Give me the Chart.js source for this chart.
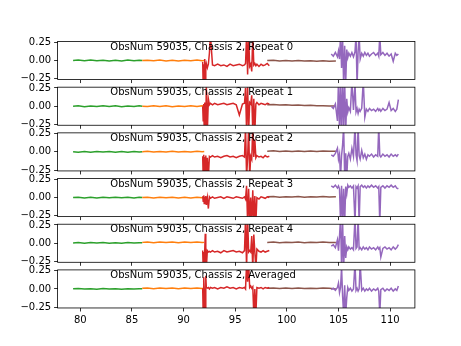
<!DOCTYPE html>
<html>
<head>
<meta charset="utf-8">
<script src="https://cdn.jsdelivr.net/npm/chart.js@4"></script>
<style>
  body { margin: 0; background: #fff; }
  #wrap { position: relative; width: 461px; height: 346px; }
  #wrap canvas { position: absolute; left: 0; top: 0; }
</style>
</head>
<body>
<div id="wrap"></div>
<script>
// panel titles and ticks
const panelTitles = [
  'ObsNum 59035, Chassis 2, Repeat 0',
  'ObsNum 59035, Chassis 2, Repeat 1',
  'ObsNum 59035, Chassis 2, Repeat 2',
  'ObsNum 59035, Chassis 2, Repeat 3',
  'ObsNum 59035, Chassis 2, Repeat 4',
  'ObsNum 59035, Chassis 2, Averaged'
];
const xTicks = [80, 85, 90, 95, 100, 105, 110];
const yTicks = [-0.25, 0, 0.25];

// green segment
const greenX = [79.3, 79.8, 80.4, 81.0, 81.6, 82.2, 82.8, 83.4, 84.0, 84.6, 85.2, 85.7, 86.0];
const greenY = [
  [0.0, 0.006, -0.004, 0.007, -0.003, 0.005, -0.006, 0.004, -0.005, 0.006, -0.003, 0.004, 0.0],
  [0.0, 0.005, -0.006, 0.004, -0.004, 0.007, -0.003, 0.005, -0.006, 0.003, -0.004, 0.005, 0.001],
  [0.002, -0.005, 0.006, -0.004, 0.005, -0.003, 0.006, -0.005, 0.004, -0.006, 0.005, -0.003, 0.002],
  [0.0, 0.006, -0.005, 0.004, -0.006, 0.005, -0.003, 0.006, -0.004, 0.005, -0.005, 0.004, 0.0],
  [0.004, 0.01, 0.0, 0.009, 0.002, 0.01, 0.001, 0.008, 0.0, 0.009, 0.002, 0.008, 0.006],
  [0.002, 0.005, -0.002, 0.004, -0.003, 0.005, -0.002, 0.004, -0.003, 0.003, -0.002, 0.004, 0.002]
];

// orange segment
const orangeX = [86.0, 86.5, 87.1, 87.7, 88.3, 88.9, 89.5, 90.1, 90.7, 91.3, 91.8, 92.0];
const orangeY = [
  [0.0, 0.005, -0.004, 0.006, -0.005, 0.004, -0.006, 0.005, -0.003, 0.006, -0.004, 0.0],
  [0.001, -0.005, 0.006, -0.004, 0.005, -0.006, 0.004, -0.005, 0.006, -0.003, 0.005, 0.0],
  [0.003, 0.008, -0.002, 0.007, -0.001, 0.008, -0.002, 0.007, 0.0, 0.008, 0.001, 0.004],
  [0.0, 0.006, -0.005, 0.005, -0.004, 0.006, -0.005, 0.004, -0.006, 0.005, -0.003, 0.0],
  [0.012, 0.018, 0.008, 0.017, 0.009, 0.018, 0.008, 0.016, 0.01, 0.018, 0.009, 0.012],
  [0.008, 0.013, 0.004, 0.012, 0.005, 0.013, 0.004, 0.012, 0.006, 0.013, 0.005, 0.008]
];

// red segment
const redX = [91.85, 91.9, 91.95, 92.0, 92.05, 92.1, 92.15, 92.2, 92.3, 92.4, 92.5, 92.6, 92.8, 93.0,
  93.3, 93.6, 93.9, 94.2, 94.5, 94.8, 95.1, 95.4, 95.7, 95.9, 96.0, 96.1, 96.2, 96.3,
  96.4, 96.5, 96.6, 96.7, 96.8, 96.9, 97.0, 97.1, 97.3, 97.5, 97.7, 97.9, 98.1, 98.3];
const redY = [
  [-0.02, -0.35, -0.05, -0.3, 0.02, -0.35, -0.08, -0.04, -0.1, -0.05, 0.1, 0.35, -0.06, -0.07,
   -0.05, -0.07, -0.06, -0.08, -0.05, -0.07, -0.06, -0.05, -0.07, -0.06, -0.04, 0.35, -0.19, 0.35,
   -0.08, -0.05, -0.15, 0.35, -0.06, -0.04, -0.07, -0.05, -0.08, -0.05, -0.07, -0.06, -0.04, -0.07],
  [0.0, -0.2, 0.03, -0.35, 0.05, 0.01, -0.35, 0.3, -0.35, 0.1, 0.02, 0.04, 0.02, 0.04,
   0.02, 0.03, 0.04, 0.02, 0.03, 0.04, 0.02, -0.12, 0.03, 0.04, 0.25, -0.35, 0.3, -0.35,
   0.05, 0.03, 0.15, -0.35, 0.1, -0.35, 0.03, 0.05, 0.02, 0.04, 0.03, 0.02, 0.04, 0.03],
  [-0.06, -0.35, -0.04, -0.35, -0.07, -0.35, -0.05, -0.35, -0.08, -0.35, -0.06, -0.07, -0.05, -0.07,
   -0.06, -0.08, -0.06, -0.05, -0.07, -0.06, -0.08, -0.06, -0.05, -0.07, 0.35, -0.35, -0.08, 0.35,
   -0.35, -0.06, -0.1, 0.35, -0.07, 0.17, -0.08, -0.05, -0.07, -0.06, -0.08, -0.05, -0.07, -0.06],
  [0.02, -0.05, 0.03, -0.08, 0.01, -0.04, 0.02, -0.1, 0.0, -0.15, 0.01, -0.01, 0.01, -0.01,
   0.0, 0.01, -0.01, 0.01, 0.0, -0.01, 0.01, 0.0, -0.01, 0.01, -0.02, 0.16, -0.35, 0.12,
   -0.35, 0.0, -0.35, 0.1, -0.35, 0.02, -0.35, 0.0, -0.02, 0.01, 0.0, -0.01, 0.01, 0.0],
  [-0.1, -0.35, -0.12, -0.35, -0.09, 0.13, -0.12, -0.35, -0.1, -0.12, -0.11, -0.12, -0.1, -0.12,
   -0.11, -0.13, -0.1, -0.12, -0.11, -0.1, -0.12, -0.11, -0.13, -0.1, 0.35, -0.35, 0.35, -0.12,
   -0.1, -0.12, 0.1, -0.35, 0.12, -0.12, -0.35, -0.08, -0.11, -0.12, -0.1, -0.12, -0.11, -0.1],
  [0.01, -0.35, 0.16, 0.0, -0.35, -0.3, 0.18, 0.02, 0.01, 0.02, 0.0, 0.02, 0.01, 0.02,
   0.0, 0.02, 0.01, 0.03, 0.01, 0.02, 0.0, 0.02, 0.01, 0.02, 0.0, 0.35, 0.1, 0.35,
   0.02, 0.04, 0.01, 0.03, -0.35, 0.0, -0.35, 0.02, 0.01, 0.02, 0.0, 0.02, 0.01, 0.02]
];

// brown segment
const brownX = [98.1, 98.7, 99.3, 99.9, 100.5, 101.1, 101.7, 102.3, 102.9, 103.5, 104.1, 104.75];
const brownY = [
  [0.0, 0.004, -0.006, 0.002, -0.007, 0.0, -0.008, -0.002, -0.009, -0.004, -0.01, -0.008],
  [0.02, 0.024, 0.015, 0.02, 0.012, 0.016, 0.009, 0.012, 0.006, 0.008, 0.003, 0.002],
  [0.01, 0.014, 0.006, 0.013, 0.007, 0.012, 0.006, 0.013, 0.007, 0.012, 0.008, 0.01],
  [0.01, 0.013, 0.006, 0.012, 0.007, 0.013, 0.006, 0.012, 0.007, 0.013, 0.008, 0.01],
  [0.012, 0.016, 0.008, 0.015, 0.009, 0.016, 0.008, 0.015, 0.009, 0.016, 0.01, 0.012],
  [0.01, 0.013, 0.006, 0.012, 0.007, 0.012, 0.006, 0.011, 0.007, 0.012, 0.008, 0.0]
];

// purple segment
const purpleX = [104.3, 104.5, 104.7, 104.9, 105.0, 105.1, 105.2, 105.3, 105.4, 105.5, 105.6, 105.7,
  105.8, 105.9, 106.0, 106.15, 106.3, 106.45, 106.6, 106.7, 106.8, 106.9, 107.0, 107.1,
  107.25, 107.4, 107.55, 107.7, 107.85, 108.0, 108.2, 108.4, 108.6, 108.8, 108.9, 109.0,
  109.1, 109.3, 109.5, 109.7, 109.9, 110.1, 110.3, 110.5, 110.65, 110.8];
const purpleY = [
  [0.09, 0.06, 0.11, 0.05, 0.13, 0.02, 0.35, -0.1, 0.3, -0.35, 0.2, -0.3,
   0.15, 0.04, 0.1, 0.06, 0.11, 0.05, 0.12, 0.35, -0.35, 0.12, 0.35, 0.02,
   0.1, 0.06, 0.11, 0.07, 0.1, 0.06, 0.09, 0.11, 0.07, 0.1, 0.06, 0.35,
   0.08, 0.11, 0.07, 0.1, 0.06, 0.09, -0.01, 0.1, 0.07, 0.09],
  [0.0, -0.03, 0.03, -0.2, 0.35, -0.35, 0.3, -0.35, 0.35, -0.3, 0.35, -0.35,
   0.1, -0.08, -0.02, -0.07, 0.35, -0.05, 0.3, -0.08, -0.03, -0.1, -0.04, -0.07,
   -0.03, 0.35, -0.15, -0.04, -0.07, -0.03, -0.06, -0.04, -0.07, -0.03, -0.06, -0.04,
   -0.07, -0.03, -0.06, -0.04, 0.05, -0.06, -0.03, -0.07, -0.04, 0.09],
  [-0.04, -0.06, -0.02, 0.05, -0.1, -0.03, -0.35, -0.05, 0.1, 0.35, -0.35, -0.02,
   -0.35, -0.06, -0.02, -0.1, 0.05, -0.06, 0.35, -0.04, -0.12, 0.35, -0.05, -0.1,
   0.02, -0.08, -0.03, -0.1, -0.04, -0.06, -0.03, -0.07, -0.04, -0.06, 0.35, -0.05,
   -0.07, -0.03, -0.06, -0.04, -0.07, -0.03, -0.06, -0.04, -0.06, -0.03],
  [0.16, 0.14, 0.17, 0.13, 0.16, 0.12, -0.35, 0.16, -0.35, 0.12, -0.35, 0.15,
   0.05, 0.17, 0.14, 0.16, 0.13, 0.16, -0.35, 0.15, 0.13, 0.16, -0.35, 0.15,
   0.17, 0.14, 0.16, 0.13, 0.16, 0.14, 0.17, 0.14, 0.16, 0.13, 0.15, -0.35,
   0.14, 0.16, 0.13, 0.16, 0.14, 0.17, 0.14, 0.16, 0.13, 0.12],
  [-0.04, -0.02, -0.06, 0.05, -0.1, 0.1, 0.35, -0.35, 0.3, -0.35, 0.1, -0.2,
   -0.05, -0.09, -0.05, -0.08, -0.06, -0.09, 0.35, -0.07, -0.05, 0.35, -0.08, -0.06,
   -0.09, -0.05, -0.08, -0.06, -0.09, -0.05, -0.08, -0.06, -0.09, -0.05, -0.08, -0.06,
   -0.19, -0.07, -0.05, -0.08, -0.06, -0.09, -0.05, -0.08, -0.06, -0.02],
  [-0.01, 0.01, -0.02, 0.02, 0.08, -0.05, 0.02, 0.3, -0.1, -0.35, 0.05, -0.35,
   -0.12, 0.02, -0.02, 0.01, -0.03, 0.0, 0.35, -0.02, 0.01, -0.03, 0.0, 0.35,
   -0.02, 0.01, -0.03, 0.0, -0.02, 0.01, -0.03, 0.0, -0.02, 0.01, -0.03, -0.35,
   -0.01, 0.01, -0.03, 0.0, -0.02, 0.01, -0.03, 0.0, -0.02, 0.04]
];

const W = 461, H = 346;
const axLeft = 57.6, axRight = 414.9;
const figTop = 41.5, panelH = 38.07, panelGap = 7.61;
const xAxisH = 30;

Chart.defaults.font.family = 'DejaVu Sans';
Chart.defaults.font.size = 10;
Chart.defaults.color = '#000';

function toPoints(xs, ys) {
  return xs.map((x, i) => ({ x: x, y: ys[i] }));
}

function fmtY(v) {
  const s = Math.abs(v).toFixed(2);
  return v < 0 ? '\u2212' + s : s;
}

// frame and panel title
const framePlugin = {
  id: 'frame',
  afterDraw(chart, args, opts) {
    const a = chart.chartArea;
    const ctx = chart.ctx;
    ctx.save();
    ctx.strokeStyle = '#000';
    ctx.lineWidth = 0.8;
    ctx.strokeRect(a.left, a.top, a.right - a.left, a.bottom - a.top);
    ctx.fillStyle = '#000';
    ctx.font = '10px "DejaVu Sans"';
    ctx.textAlign = 'left';
    ctx.textBaseline = 'alphabetic';
    ctx.fillText(opts.title, chart.scales.x.getPixelForValue(82.9), chart.scales.y.getPixelForValue(0.15));
    ctx.restore();
  }
};

const wrap = document.getElementById('wrap');

panelTitles.forEach((title, i) => {
  const top = figTop + i * (panelH + panelGap);
  const isLast = i === panelTitles.length - 1;
  const canvas = document.createElement('canvas');
  canvas.width = W;
  canvas.height = H;
  canvas.style.width = W + 'px';
  canvas.style.height = H + 'px';
  wrap.appendChild(canvas);

  const line = (xs, ys, color, order) => ({
    data: toPoints(xs, ys),
    borderColor: color,
    borderWidth: 1.5,
    pointRadius: 0,
    tension: 0,
    order: order
  });

  new Chart(canvas.getContext('2d'), {
    type: 'line',
    data: {
      datasets: [
        line(purpleX, purpleY[i], '#9467bd', 0),
        line(redX, redY[i], '#d62728', 1),
        line(brownX, brownY[i], '#8c564b', 2),
        line(orangeX, orangeY[i], '#ff7f0e', 3),
        line(greenX, greenY[i], '#2ca02c', 4)
      ]
    },
    options: {
      responsive: false,
      animation: false,
      devicePixelRatio: 1,
      events: [],
      layout: {
        padding: { left: 0, right: W - axRight, top: top, bottom: H - (top + panelH) - xAxisH }
      },
      plugins: {
        legend: { display: false },
        tooltip: { enabled: false },
        frame: { title: title }
      },
      scales: {
        x: {
          type: 'linear',
          min: 77.8,
          max: 112.4,
          afterBuildTicks: s => { s.ticks = xTicks.map(v => ({ value: v })); },
          afterFit: s => { s.height = xAxisH; },
          border: { display: false },
          grid: { drawOnChartArea: false, drawTicks: true, tickLength: 3.5, tickWidth: 0.8, tickColor: '#000' },
          ticks: {
            autoSkip: false,
            maxRotation: 0,
            padding: 3,
            color: isLast ? '#000' : 'rgba(0,0,0,0)',
            callback: v => String(v)
          }
        },
        y: {
          min: -0.26,
          max: 0.26,
          afterBuildTicks: s => { s.ticks = yTicks.map(v => ({ value: v })); },
          afterFit: s => { s.width = axLeft; },
          border: { display: false },
          grid: { drawOnChartArea: false, drawTicks: true, tickLength: 3.5, tickWidth: 0.8, tickColor: '#000' },
          ticks: { padding: 3, callback: v => fmtY(v) }
        }
      }
    },
    plugins: [framePlugin]
  });
});
</script>
</body>
</html>
